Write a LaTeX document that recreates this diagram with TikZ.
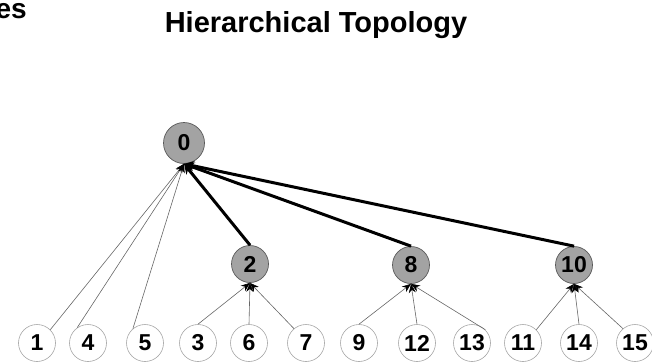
\documentclass[tikz,border=0pt]{standalone}
\usepackage{fontspec}
\setmainfont{Liberation Sans}
\usetikzlibrary{arrows.meta}
\tikzset{
  leaf/.style={circle, draw=gray!70, line width=0.6pt, fill=white, inner sep=0pt,
    minimum size=37pt, font=\fontsize{23}{25}\selectfont\bfseries},
  hub/.style={circle, draw=black!65, line width=0.7pt, fill=black!36, inner sep=0pt,
    minimum size=37pt, font=\fontsize{23}{25}\selectfont\bfseries},
  thinlink/.style={draw=black!60, line width=0.6pt,
    -{Stealth[black, length=9pt, width=7pt]}},
  thicklink/.style={draw=black, line width=3pt,
    -{Stealth[black, length=10pt, width=10pt]}},
}
\begin{document}
\begin{tikzpicture}[x=1pt, y=-1pt]
\useasboundingbox (0,0) rectangle (652,361);

% headings
\node[anchor=base east, inner sep=0pt, font=\fontsize{28}{30}\selectfont\bfseries] (head) at (27,19) {es};
\node[anchor=base, inner sep=0pt, font=\fontsize{29}{33}\selectfont\bfseries] (title) at (316,33) {Hierarchical Topology};

% root and cluster heads
\node[hub, minimum size=41pt] (n0) at (184,143) {0};
\node[hub] (n2) at (250,264) {2};
\node[hub] (n8) at (411,265) {8};
\node[hub] (n10) at (574,265) {10};

% member nodes
\node[leaf] (n1) at (37,343) {1};
\node[leaf] (n4) at (88,343) {4};
\node[leaf] (n5) at (145,343) {5};
\node[leaf] (n3) at (198,343) {3};
\node[leaf] (n6) at (249,343) {6};
\node[leaf] (n7) at (306,343) {7};
\node[leaf] (n9) at (359,343) {9};
\node[leaf] (n12) at (417,343) {12};
\node[leaf] (n13) at (472,343) {13};
\node[leaf] (n11) at (523,343) {11};
\node[leaf] (n14) at (579,343) {14};
\node[leaf] (n15) at (635,343) {15};

% members reporting to their heads
\draw[thinlink] (n1.45) -- (n0.south);
\draw[thinlink] (n4.125) -- (n0.south);
\draw[thinlink] (n5.130) -- (n0.south);
\draw[thinlink] (n3.90) -- (n2.south);
\draw[thinlink] (n6.90) -- (n2.south);
\draw[thinlink] (n7.130) -- (n2.south);
\draw[thinlink] (n9.90) -- (n8.south);
\draw[thinlink] (n12.90) -- (n8.south);
\draw[thinlink] (n13.45) -- (n8.south);
\draw[thinlink] (n11.45) -- (n10.south);
\draw[thinlink] (n14.90) -- (n10.south);
\draw[thinlink] (n15.130) -- (n10.south);

% heads reporting to the root
\draw[thicklink] (n2.north) -- (n0.south);
\draw[thicklink] (n8.north) -- (n0.south);
\draw[thicklink] (n10.north) -- (n0.south);
\end{tikzpicture}
\end{document}
